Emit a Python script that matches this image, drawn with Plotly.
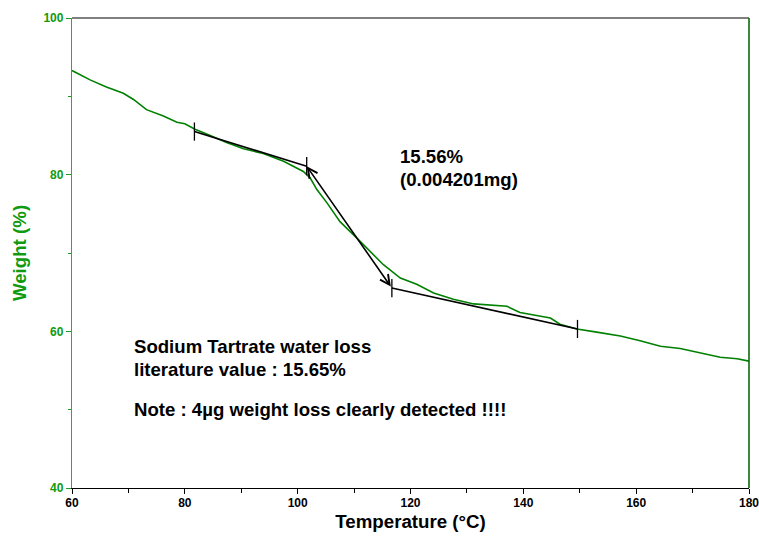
import plotly.graph_objects as go

# TGA curve: temperature (°C) vs weight (%)
temperature = [60, 63.2, 66.1, 69.1, 70.9, 73.2, 76.2, 78.6, 80.0, 81.8, 84.5, 87.4,
               90.4, 93.9, 97.5, 101.0, 102.2, 103.4, 105.2, 107.5, 110.5, 112.8,
               115.2, 118.2, 121.1, 124.1, 127.6, 131.2, 134.7, 137.1, 139.4, 142.4,
               144.8, 146.5, 149.5, 153.0, 157.2, 160.7, 164.3, 167.8, 171.3, 174.9,
               177.9, 180]
weight = [93.3, 92.1, 91.2, 90.4, 89.6, 88.3, 87.5, 86.7, 86.5, 85.8, 85.0, 84.1,
          83.3, 82.7, 81.7, 80.4, 79.6, 78.1, 76.4, 74.0, 71.9, 70.2,
          68.5, 66.8, 66.0, 64.9, 64.1, 63.5, 63.3, 63.2, 62.4, 62.0,
          61.7, 60.9, 60.3, 59.9, 59.4, 58.8, 58.1, 57.8, 57.3, 56.7,
          56.5, 56.2]

# Step analysis: baseline tangents before and after the step
pre_tangent_t = [81.7, 101.6]
pre_tangent_w = [85.5, 81.08]
post_tangent_t = [116.7, 149.6]
post_tangent_w = [65.52, 60.3]

step_label = ["15.56%", "(0.004201mg)"]
note_lines = ["Sodium Tartrate water loss",
              "literature value : 15.65%",
              "Note : 4µg weight loss clearly detected !!!!"]

x_ticks = [60, 80, 100, 120, 140, 160, 180]
y_ticks = [40, 60, 80, 100]

FONT = "Liberation Sans, Arial, sans-serif"
GREEN = "#008000"
LABEL_GREEN = "#109a10"

fig = go.Figure()

fig.add_trace(go.Scatter(x=temperature, y=weight, mode="lines",
                         line=dict(color=GREEN, width=1.6), hoverinfo="skip"))

for tx, wy in ((pre_tangent_t, pre_tangent_w), (post_tangent_t, post_tangent_w)):
    fig.add_trace(go.Scatter(x=tx, y=wy, mode="lines+markers",
                             line=dict(color="black", width=1.6),
                             marker=dict(symbol="line-ns", size=13,
                                         line=dict(color="black", width=1.3)),
                             hoverinfo="skip"))

# double-headed arrow spanning the step
fig.add_annotation(x=pre_tangent_t[1], y=pre_tangent_w[1],
                   ax=post_tangent_t[0], ay=post_tangent_w[0],
                   xref="x", yref="y", axref="x", ayref="y",
                   text="", showarrow=True, arrowside="end+start",
                   arrowhead=5, startarrowhead=5, arrowsize=1.2, startarrowsize=1.2,
                   arrowwidth=1.6, arrowcolor="black")

txt_font = dict(family=FONT, size=18.6, color="black")
for label, yy in zip(step_label, [82.3, 79.4]):
    fig.add_annotation(x=117.8, y=yy, xref="x", yref="y", text="<b>%s</b>" % label,
                       showarrow=False, xanchor="left", yanchor="middle", font=txt_font)
for label, yy in zip(note_lines, [58.05, 55.1, 50.0]):
    fig.add_annotation(x=70.6, y=yy, xref="x", yref="y", text="<b>%s</b>" % label,
                       showarrow=False, xanchor="left", yanchor="middle", font=txt_font)

# frame: grey top edge, dark green right edge
fig.add_shape(type="line", xref="paper", yref="paper", x0=0, x1=1, y0=1, y1=1,
              line=dict(color="#808080", width=2.2))
fig.add_shape(type="line", xref="paper", yref="paper", x0=1, x1=1, y0=0, y1=1,
              line=dict(color="#0b6b0b", width=1.6))

fig.update_layout(
    width=759, height=539,
    margin=dict(l=72, r=10, t=18, b=51, autoexpand=False),
    paper_bgcolor="white", plot_bgcolor="white",
    showlegend=False,
    font=dict(family=FONT),
    xaxis=dict(range=[60, 180], tickvals=x_ticks,
               ticktext=["<b>%d</b>" % v for v in x_ticks],
               automargin=False,
               showgrid=False, zeroline=False,
               showline=True, linecolor="black", linewidth=1.2,
               ticks="outside", ticklen=5, tickcolor="black", tickwidth=1.2,
               minor=dict(ticks="outside", dtick=10, ticklen=4, tickcolor="black", tickwidth=1.2),
               ticklabeloverflow="allow", ticklabelstandoff=-2,
               tickfont=dict(family=FONT, size=12, color="black"),
               title=dict(text="<b>Temperature (°C)</b>", standoff=6,
                          font=dict(family=FONT, size=18.7, color="black"))),
    yaxis=dict(range=[40, 100], tickvals=y_ticks,
               ticktext=["<b>%d</b>" % v for v in y_ticks],
               automargin=False,
               showgrid=False, zeroline=False,
               showline=True, linecolor="#3aa53a", linewidth=1.3,
               ticks="outside", ticklen=5, tickcolor="#229922", tickwidth=1.2,
               minor=dict(ticks="outside", dtick=10, ticklen=3, tickcolor="#229922", tickwidth=1.2),
               ticklabeloverflow="allow",
               tickfont=dict(family=FONT, size=12, color=LABEL_GREEN),
               title=dict(text="<b>Weight (%)</b>", standoff=11,
                          font=dict(family=FONT, size=18.7, color=LABEL_GREEN))),
)

fig.write_html("out.html")
